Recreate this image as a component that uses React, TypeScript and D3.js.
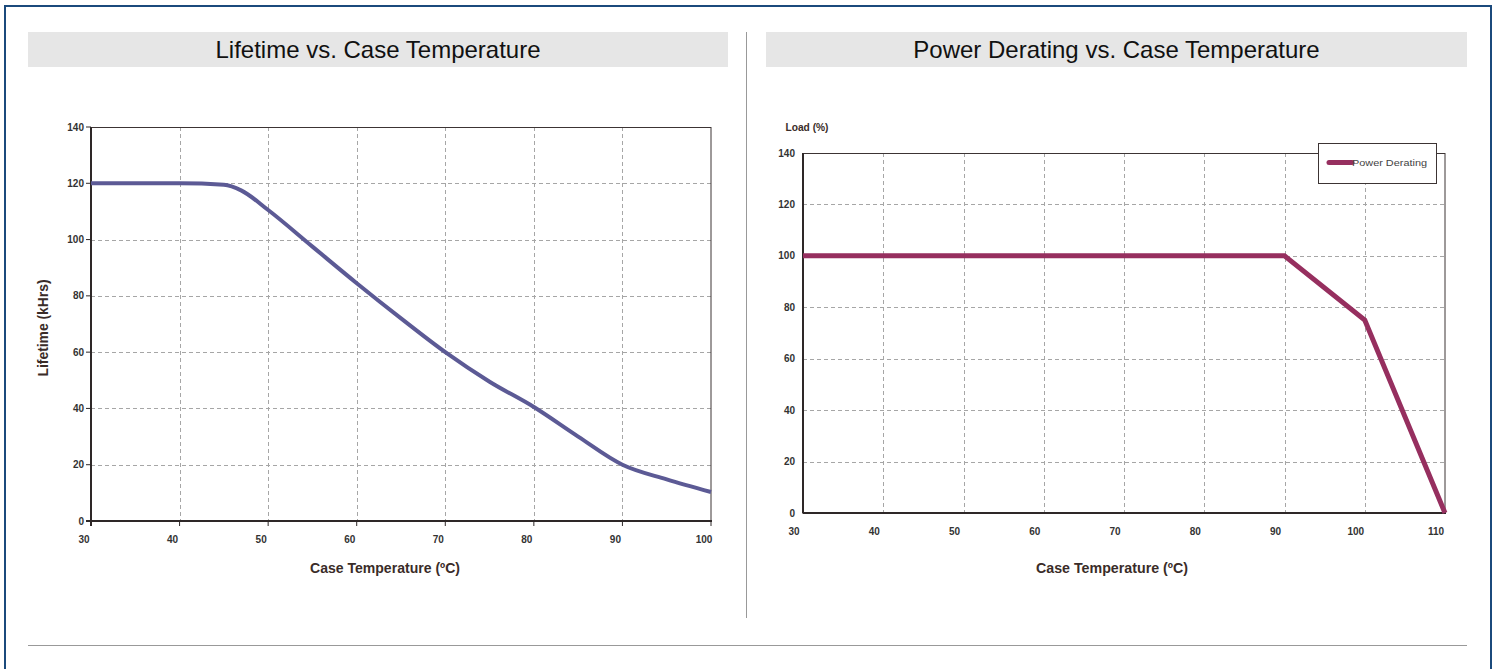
import { useEffect, useRef } from "react";
import * as d3 from "d3";

// lifetime curve
const lifeTemps = [30, 40, 45, 47, 50, 55, 60, 65, 70, 75, 80, 85, 90, 95, 100];
const lifeHours = [120, 120, 119.5, 117.4, 110.5, 97.5, 84.5, 72, 60, 49.5, 40.5, 30, 20, 14.8, 10.3];
const lifeXTicks = [30, 40, 50, 60, 70, 80, 90, 100];
const lifeYTicks = [0, 20, 40, 60, 80, 100, 120, 140];

// power derating
const deratingTemps = [30, 40, 50, 60, 70, 80, 90, 100, 110];
const deratingLoad = [100, 100, 100, 100, 100, 100, 100, 75, 0];
const deratingXTicks = [30, 40, 50, 60, 70, 80, 90, 100, 110];
const deratingYTicks = [0, 20, 40, 60, 80, 100, 120, 140];

const TICK_FONT = "'Liberation Sans', Arial, sans-serif";
const NARROW_FONT = "'Liberation Sans Narrow', 'Arial Narrow', 'Liberation Sans', sans-serif";

const App = () => {
  const svgRef = useRef(null);

  useEffect(() => {
    const svg = d3.select(svgRef.current);
    svg.selectAll("*").remove();

    // frame + headers
    svg.append("rect").attr("x", 5).attr("y", 6).attr("width", 1486).attr("height", 680)
      .attr("fill", "none").attr("stroke", "#1b4a7c").attr("stroke-width", 2);

    const titles = [
      { x: 28, w: 700, text: "Lifetime vs. Case Temperature" },
      { x: 766, w: 701, text: "Power Derating vs. Case Temperature" },
    ];
    titles.forEach((t) => {
      svg.append("rect").attr("x", t.x).attr("y", 32).attr("width", t.w).attr("height", 35).attr("fill", "#e6e6e6");
      svg.append("text").attr("x", t.x + t.w / 2).attr("y", 57.5).attr("text-anchor", "middle")
        .attr("font-family", "'Liberation Sans', Arial, sans-serif").attr("font-size", 24).attr("fill", "#111")
        .text(t.text);
    });
    svg.append("line").attr("x1", 746.5).attr("x2", 746.5).attr("y1", 32).attr("y2", 618)
      .attr("stroke", "#999").attr("stroke-width", 1);
    svg.append("line").attr("x1", 28).attr("x2", 1467).attr("y1", 645.5).attr("y2", 645.5)
      .attr("stroke", "#999").attr("stroke-width", 1);

    const drawPanel = (opts) => {
      const { x, y, xTicks, yTicks, dx, yLabelX, xLabelY, tickLen } = opts;
      const g = svg.append("g");
      const [x0, x1] = x.range();
      const [y0, y1] = y.range();

      // grid
      g.selectAll(".vgrid").data(xTicks.slice(1, -1)).enter().append("line")
        .attr("x1", (d) => Math.round(x(d)) + 0.5).attr("x2", (d) => Math.round(x(d)) + 0.5)
        .attr("y1", y1).attr("y2", y0)
        .attr("stroke", "#a6a6a6").attr("stroke-dasharray", "4,3");
      g.selectAll(".hgrid").data(yTicks.slice(1, -1)).enter().append("line")
        .attr("x1", x0).attr("x2", x1)
        .attr("y1", (d) => Math.round(y(d)) + 0.5).attr("y2", (d) => Math.round(y(d)) + 0.5)
        .attr("stroke", "#a6a6a6").attr("stroke-dasharray", "4,3");

      // box
      g.append("rect").attr("x", x0).attr("y", y1 + 0.5).attr("width", x1 - x0).attr("height", y0 - y1)
        .attr("fill", "none").attr("stroke", "#3c3434").attr("stroke-width", 1);
      g.append("line").attr("x1", x0 - tickLen).attr("x2", x1 + 1).attr("y1", y0).attr("y2", y0)
        .attr("stroke", "#2e2828").attr("stroke-width", 2);
      g.append("line").attr("x1", x0).attr("x2", x0).attr("y1", y1).attr("y2", y0 + tickLen)
        .attr("stroke", "#2e2828").attr("stroke-width", 2);

      if (tickLen > 0) {
        g.selectAll(".ytick").data(yTicks).enter().append("line")
          .attr("x1", x0 - tickLen).attr("x2", x0).attr("y1", (d) => y(d)).attr("y2", (d) => y(d))
          .attr("stroke", "#2e2828");
        g.selectAll(".xtick").data(xTicks).enter().append("line")
          .attr("x1", (d) => x(d)).attr("x2", (d) => x(d)).attr("y1", y0).attr("y2", y0 + tickLen)
          .attr("stroke", "#2e2828");
      }

      g.selectAll(".ylab").data(yTicks).enter().append("text")
        .attr("x", yLabelX).attr("y", (d) => y(d)).attr("dy", "0.35em").attr("text-anchor", "end")
        .attr("font-family", TICK_FONT).attr("font-weight", "bold").attr("font-size", 10).attr("fill", "#333")
        .text((d) => d);
      g.selectAll(".xlab").data(xTicks).enter().append("text")
        .attr("x", (d) => x(d) + dx).attr("y", xLabelY).attr("dy", "0.35em").attr("text-anchor", "middle")
        .attr("font-family", TICK_FONT).attr("font-weight", "bold").attr("font-size", 10).attr("fill", "#333")
        .text((d) => d);
      return g;
    };

    // ---- left: lifetime
    const lx = d3.scaleLinear().domain([30, 100]).range([91, 711]);
    const ly = d3.scaleLinear().domain([0, 140]).range([521, 127]);
    const left = drawPanel({ x: lx, y: ly, xTicks: lifeXTicks, yTicks: lifeYTicks, dx: -7, yLabelX: 84, xLabelY: 539, tickLen: 5 });
    const lifeLine = d3.line().x((d) => lx(d[0])).y((d) => ly(d[1])).curve(d3.curveMonotoneX);
    left.append("path").datum(lifeTemps.map((t, i) => [t, lifeHours[i]]))
      .attr("d", lifeLine).attr("fill", "none").attr("stroke", "#5c5a95").attr("stroke-width", 4);
    left.append("text").attr("transform", "translate(48,328) rotate(-90)").attr("text-anchor", "middle")
      .attr("font-family", NARROW_FONT).attr("font-weight", "bold").attr("font-size", 14).attr("fill", "#3a2c28")
      .attr("textLength", 97).attr("lengthAdjust", "spacingAndGlyphs").text("Lifetime (kHrs)");
    left.append("text").attr("x", 385).attr("y", 573).attr("text-anchor", "middle")
      .attr("font-family", NARROW_FONT).attr("font-weight", "bold").attr("font-size", 15).attr("fill", "#3a2c28")
      .attr("textLength", 150).attr("lengthAdjust", "spacingAndGlyphs").text("Case Temperature (ºC)");

    // ---- right: power derating
    const rx = d3.scaleLinear().domain([30, 110]).range([803, 1445]);
    const ry = d3.scaleLinear().domain([0, 140]).range([513, 153]);
    const right = drawPanel({ x: rx, y: ry, xTicks: deratingXTicks, yTicks: deratingYTicks, dx: -9, yLabelX: 795, xLabelY: 531, tickLen: 0 });
    const deratingLine = d3.line().x((d) => rx(d[0])).y((d) => ry(d[1]));
    right.append("path").datum(deratingTemps.map((t, i) => [t, deratingLoad[i]]))
      .attr("d", deratingLine).attr("fill", "none").attr("stroke", "#962f5f").attr("stroke-width", 5);
    right.append("text").attr("x", 807).attr("y", 127).attr("dy", "0.35em").attr("text-anchor", "middle")
      .attr("font-family", NARROW_FONT).attr("font-weight", "bold").attr("font-size", 10).attr("fill", "#3a2c28")
      .attr("textLength", 43).attr("lengthAdjust", "spacingAndGlyphs").text("Load (%)");
    right.append("text").attr("x", 1112).attr("y", 573).attr("text-anchor", "middle")
      .attr("font-family", NARROW_FONT).attr("font-weight", "bold").attr("font-size", 15).attr("fill", "#3a2c28")
      .attr("textLength", 152).attr("lengthAdjust", "spacingAndGlyphs").text("Case Temperature (ºC)");

    // legend
    const legend = right.append("g").attr("transform", "translate(1318,143)");
    legend.append("rect").attr("x", 0.5).attr("y", 0.5).attr("width", 118).attr("height", 40)
      .attr("fill", "#fff").attr("stroke", "#3c3434");
    legend.append("line").attr("x1", 11).attr("x2", 34).attr("y1", 19.5).attr("y2", 19.5)
      .attr("stroke", "#962f5f").attr("stroke-width", 5).attr("stroke-linecap", "round");
    legend.append("text").attr("x", 34).attr("y", 20).attr("dy", "0.35em")
      .attr("font-family", "'Liberation Sans', sans-serif").attr("font-size", 9).attr("fill", "#444")
      .attr("textLength", 75).attr("lengthAdjust", "spacingAndGlyphs").text("Power Derating");
  }, []);

  return (
    <div>
      <style>{`body{margin:0;overflow:hidden}`}</style>
      <svg ref={svgRef} width={1499} height={669} style={{ display: "block", background: "#fff" }} />
    </div>
  );
};

export default App;
